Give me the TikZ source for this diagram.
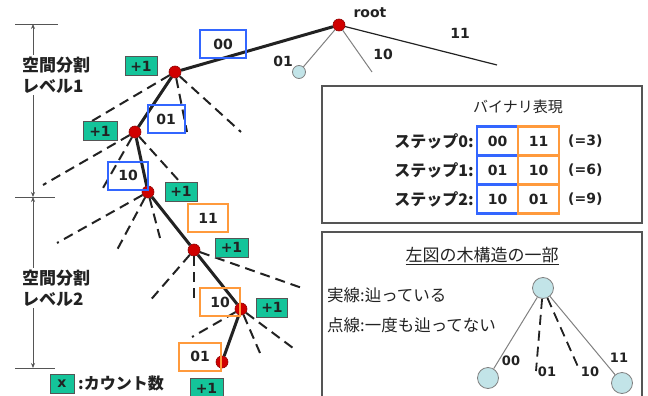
\documentclass[tikz,border=0pt]{standalone}
\usepackage{fontspec}
\setmainfont{DejaVu Sans}
\newfontfamily\jpfont{Noto Sans CJK JP}
\usetikzlibrary{arrows.meta}

\definecolor{hitred}{HTML}{D00000}
\definecolor{countgreen}{HTML}{14C49A}
\definecolor{bitblue}{HTML}{3366FF}
\definecolor{bitorange}{HTML}{FF9A3C}
\definecolor{leafcyan}{HTML}{C2E4E8}
\definecolor{ink}{HTML}{222222}
\definecolor{framegray}{HTML}{555555}

\tikzset{
  num/.style={font=\fontsize{14}{16}\selectfont\bfseries, text=ink, inner sep=0},
  jplabel/.style={font=\jpfont\bfseries\fontsize{17}{21}\selectfont, text=ink, align=left, inner sep=2},
  jpbold/.style={font=\jpfont\bfseries\fontsize{16}{18}\selectfont, text=ink, inner sep=0},
  jptext/.style={font=\jpfont\fontsize{16.5}{18}\selectfont, text=ink, inner sep=0},
  hit/.style={circle, fill=hitred, draw=hitred!70!black, line width=0.6, inner sep=0, minimum size=12},
  leaf/.style={circle, fill=leafcyan, draw=gray, line width=0.8, inner sep=0, minimum size=13},
  bigleaf/.style={leaf, minimum size=21},
  count/.style={rectangle, fill=countgreen, draw=framegray, line width=0.6, inner sep=0,
                minimum width=32, minimum height=19, num},
  bitbox/.style={rectangle, draw=#1, line width=2, inner sep=0,
                 minimum width=40, minimum height=28, num},
  cell/.style={rectangle, draw=#1, line width=2.4, inner sep=0,
               minimum width=41, minimum height=29, num},
  walk/.style={line width=3, ink},
  untried/.style={line width=2, ink, dash pattern=on 10 off 6},
  twig/.style={line width=1, gray},
  dimline/.style={line width=0.8, framegray},
  dimarrow/.style={dimline, -{Stealth[length=5, width=4]}}
}

\begin{document}
\begin{tikzpicture}[x=1pt, y=-1pt]
\useasboundingbox (0,0) rectangle (648,396);

% ---------- quadtree path ----------
\node[hit] (r)  at (339,25) {};
\node[hit] (n1) at (175,72) {};
\node[hit] (n2) at (135,132) {};
\node[hit] (n3) at (148,192) {};
\node[hit] (n4) at (194,250) {};
\node[hit] (n5) at (241,309) {};
\node[hit] (n6) at (222,362) {};
\node[leaf] (l0) at (299,72) {};
\node[num] (rootlab) at (370,13) {root};

% free ends of the other branches
\coordinate (r10) at (372,72);
\coordinate (r11) at (497,65);
\coordinate (a1) at (92,121);  \coordinate (b1) at (187,132); \coordinate (c1) at (241,132);
\coordinate (a2) at (43,185);  \coordinate (b2) at (103,188); \coordinate (c2) at (180,182);
\coordinate (a3) at (57,243);  \coordinate (b3) at (117,250); \coordinate (c3) at (160,238);
\coordinate (a4) at (148,303); \coordinate (b4) at (194,298); \coordinate (c4) at (302,288);
\coordinate (a5) at (192,337); \coordinate (b5) at (260,353); \coordinate (c5) at (293,348);

% root's other children
\draw[twig] (r) -- (l0);
\draw[twig] (r) -- (r10);
\draw[line width=1.2, ink] (r) -- (r11);

% branches never visited
\foreach \p in {1,...,5} {
  \draw[untried] (n\p) -- (a\p);
  \draw[untried] (n\p) -- (b\p);
  \draw[untried] (n\p) -- (c\p);
}

% visited path
\draw[walk] (r) -- (n1);
\draw[walk] (n1) -- (n2);
\draw[walk] (n2) -- (n3);
\draw[walk] (n3) -- (n4);
\draw[walk] (n4) -- (n5);
\draw[walk] (n5) -- (n6);

% edge labels at root
\node[num] (e01) at (283,61) {01};
\node[num] (e10) at (383,54) {10};
\node[num] (e11) at (460,33) {11};

% bit pairs along the path
\node[bitbox=bitblue, minimum width=46] (p00) at (223,44) {00};
\node[bitbox=bitblue, minimum width=37] (p01) at (166,119) {01};
\node[bitbox=bitblue] (p10) at (128,175.5) {10};
\node[bitbox=bitorange] (q11) at (208,218) {11};
\node[bitbox=bitorange] (q10) at (220,302) {10};
\node[bitbox=bitorange, minimum width=42] (q01) at (200,356.5) {01};

% counters
\node[count] (k1) at (141,66) {+1};
\node[count, minimum width=34] (k2) at (100,131) {+1};
\node[count] (k3) at (181,191.5) {+1};
\node[count, minimum width=33] (k4) at (231.5,247.5) {+1};
\node[count, minimum width=31] (k5) at (272,307.5) {+1};
\node[count, minimum width=33] (k6) at (206.5,388) {+1};

% key
\node[count, minimum width=24] (key) at (62,383.5) {x};
\node[jpbold, anchor=west] (keytext) at (78,383) {:カウント数};

% ---------- level dimensions ----------
\node[jplabel, anchor=west] (lv1) at (20,75) {空間分割\\レベル1};
\node[jplabel, anchor=west] (lv2) at (20,288) {空間分割\\レベル2};
\coordinate (d1) at (33,24);
\coordinate (d2) at (33,197);
\coordinate (d3) at (33,368);
\draw[dimarrow] (lv1.north -| d1) -- (d1);
\draw[dimarrow] (lv1.south -| d1) -- (d2);
\draw[dimarrow] (lv2.north -| d1) -- (d2);
\draw[dimarrow] (lv2.south -| d1) -- (d3);
\draw[dimline] (15,24) -- (58,24);
\draw[dimline] (15,197) -- (55,197);
\draw[dimline] (15,368) -- (55,368);

% ---------- binary representation panel ----------
\draw[framegray, line width=1.2] (322,86) rectangle (642,223);
\node[jptext, font=\jpfont\fontsize{15}{17}\selectfont] (bintitle) at (518,107) {バイナリ表現};

\node[jpbold, anchor=east] (st0) at (474,141) {ステップ0:};
\node[jpbold, anchor=east] (st1) at (474,170) {ステップ1:};
\node[jpbold, anchor=east] (st2) at (474,199) {ステップ2:};

\node[cell=bitblue] (u0) at (497.5,141) {00};
\node[cell=bitblue] (u1) at (497.5,170) {01};
\node[cell=bitblue] (u2) at (497.5,199) {10};
\node[cell=bitorange] (v0) at (538.5,141) {11};
\node[cell=bitorange] (v1) at (538.5,170) {10};
\node[cell=bitorange] (v2) at (538.5,199) {01};

\node[num, anchor=west] (w0) at (568,141) {(=3)};
\node[num, anchor=west] (w1) at (568,170) {(=6)};
\node[num, anchor=west] (w2) at (568,199) {(=9)};

% ---------- partial tree panel ----------
\draw[framegray, line width=1.2] (322,402) -- (322,232) -- (642,232) -- (642,402);
\node[jptext, font=\jpfont\fontsize{17}{19}\selectfont] (parttitle) at (482,256) {\underline{左図の木構造の一部}};
\node[jptext, anchor=west] (solidnote) at (327,295) {実線:辿っている};
\node[jptext, anchor=west] (dashnote) at (327,325) {点線:一度も辿ってない};

\node[bigleaf] (st) at (543,288) {};
\node[bigleaf] (sl) at (488,378) {};
\node[bigleaf] (sr) at (622,383) {};
\coordinate (sm1) at (536,371);
\coordinate (sm2) at (579,369);
\draw[twig] (st) -- (sl);
\draw[twig] (st) -- (sr);
\draw[untried, line width=1.8] (st) -- (sm1);
\draw[untried, line width=1.8] (st) -- (sm2);
\node[num, font=\fontsize{13}{15}\selectfont\bfseries] (f00) at (511,361) {00};
\node[num, font=\fontsize{13}{15}\selectfont\bfseries] (f01) at (547,372) {01};
\node[num, font=\fontsize{13}{15}\selectfont\bfseries] (f10) at (590,372) {10};
\node[num, font=\fontsize{13}{15}\selectfont\bfseries] (f11) at (619,358) {11};
\end{tikzpicture}
\end{document}
